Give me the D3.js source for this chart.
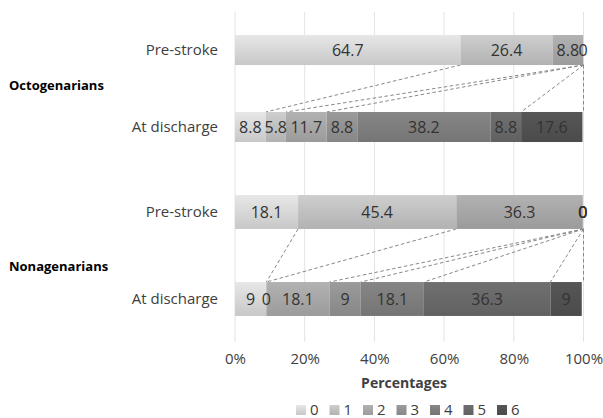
<!DOCTYPE html>
<html>
<head>
<meta charset="utf-8">
<script src="https://cdn.jsdelivr.net/npm/d3@7/dist/d3.min.js"></script>
<style>
  html, body { margin: 0; padding: 0; background: #fff; }
  svg { display: block; font-family: "Open Sans", sans-serif; }
</style>
</head>
<body>
<svg id="chart" width="603" height="418"></svg>
<script>
// ---- data ----
const categories = ["0", "1", "2", "3", "4", "5", "6"];
const groups = ["Octogenarians", "Nonagenarians"];
const timepoints = ["Pre-stroke", "At discharge"];
const octoPre = [64.7, 26.4, 8.8, 0, null, null, null];
const octoDischarge = [8.8, 5.8, 11.7, 8.8, 38.2, 8.8, 17.6];
const nonaPre = [18.1, 45.4, 36.3, 0, 0, 0, 0];
const nonaDischarge = [9, 0, 18.1, 9, 18.1, 36.3, 9];
// connector lines: [pre-stroke cumulative %, discharge cumulative %]
const octoConnectors = [[64.7, 8.8], [100, 14.6], [100, 26.3], [100, 82.1], [100, 100]];
const nonaConnectors = [[18.1, 9], [63.5, 9], [100, 27.1], [100, 36.1], [100, 54.2], [100, 90.5], [100, 100]];
const tickValues = [0, 20, 40, 60, 80, 100];
const colors = ["#d3d3d3", "#bcbcbc", "#a3a3a3", "#8e8e8e", "#7b7b7b", "#666666", "#4f4f4f"];

const svg = d3.select("#chart");
const x = d3.scaleLinear().domain([0, 100]).range([235, 583.5]);

const panels = [
  { name: groups[0], rows: [octoPre, octoDischarge], conn: octoConnectors, labelPos: 0.477,
    y: d3.scaleBand().domain(timepoints).range([11.5, 165.5]).paddingInner(0.61).paddingOuter(0.305) },
  { name: groups[1], rows: [nonaPre, nonaDischarge], conn: nonaConnectors, labelPos: 0.56,
    y: d3.scaleBand().domain(timepoints).range([168.5, 342.5]).paddingInner(0.61).paddingOuter(0.305) }
];

// gradients
const defs = svg.append("defs");
colors.forEach((c, i) => {
  const g = defs.append("linearGradient").attr("id", "g" + i)
    .attr("x1", 0).attr("y1", 0).attr("x2", 0).attr("y2", 1);
  g.append("stop").attr("offset", "0%").attr("stop-color", d3.color(c).brighter(0.25));
  g.append("stop").attr("offset", "100%").attr("stop-color", d3.color(c).darker(0.15));
});

// gridlines
svg.append("g").selectAll("line").data(tickValues).join("line")
  .attr("x1", d => x(d)).attr("x2", d => x(d))
  .attr("y1", 12).attr("y2", 342)
  .attr("stroke", "#e3e3e3").attr("stroke-width", 1);

panels.forEach(p => {
  const bw = p.y.bandwidth();
  // connectors
  svg.append("g").selectAll("line").data(p.conn).join("line")
    .attr("x1", d => x(d[0])).attr("y1", p.y(timepoints[0]) + bw)
    .attr("x2", d => x(d[1])).attr("y2", p.y(timepoints[1]))
    .attr("stroke", "#888").attr("stroke-width", 1)
    .attr("stroke-dasharray", "3.5,2.5");

  p.rows.forEach((vals, ri) => {
    const y0 = p.y(timepoints[ri]);
    let cum = 0;
    const segs = vals.map((v, i) => {
      const s = { i, v, start: cum, end: cum + (v || 0) };
      cum += (v || 0);
      return s;
    });
    const g = svg.append("g");
    g.selectAll("rect").data(segs.filter(s => s.v > 0)).join("rect")
      .attr("x", s => x(s.start)).attr("width", s => x(s.end) - x(s.start))
      .attr("y", y0).attr("height", bw)
      .attr("fill", s => `url(#g${s.i})`);
    g.selectAll("text").data(segs.filter(s => s.v !== null)).join("text")
      .attr("x", s => x((s.start + s.end) / 2))
      .attr("y", y0 + bw / 2)
      .attr("dy", "0.36em")
      .attr("text-anchor", "middle")
      .attr("font-size", 16)
      .attr("fill", "#333")
      .text(s => s.v);
    // row label
    svg.append("text")
      .attr("x", 218).attr("y", y0 + bw / 2).attr("dy", "0.36em")
      .attr("text-anchor", "end").attr("font-size", 15).attr("fill", "#404040")
      .text(timepoints[ri]);
  });
  // group label
  const r = p.y.range();
  svg.append("text")
    .attr("x", 9).attr("y", r[0] + (r[1] - r[0]) * p.labelPos).attr("dy", "0.36em")
    .attr("font-size", 13).attr("font-weight", "bold").attr("fill", "#000")
    .text(p.name);
});

// x axis
const axis = d3.axisBottom(x).tickValues(tickValues).tickFormat(d => d + "%").tickSize(0);
const ax = svg.append("g").attr("transform", "translate(0,350)").call(axis);
ax.select(".domain").remove();
ax.selectAll("text").attr("font-size", 15).attr("fill", "#404040")
  .attr("font-family", "Open Sans, sans-serif");

svg.append("text").attr("x", 404).attr("y", 383).attr("dy", "0.36em")
  .attr("text-anchor", "middle").attr("font-size", 14).attr("font-weight", "bold")
  .attr("fill", "#404040").text("Percentages");

// legend
const leg = svg.append("g").selectAll("g").data(categories).join("g")
  .attr("transform", (d, i) => `translate(${296 + i * 33.5},410)`);
leg.append("rect").attr("x", 0).attr("y", -5).attr("width", 10).attr("height", 10)
  .attr("fill", (d, i) => `url(#g${i})`);
leg.append("text").attr("x", 14).attr("y", 0).attr("dy", "0.36em")
  .attr("font-size", 15).attr("fill", "#404040").text(d => d);
</script>
</body>
</html>
